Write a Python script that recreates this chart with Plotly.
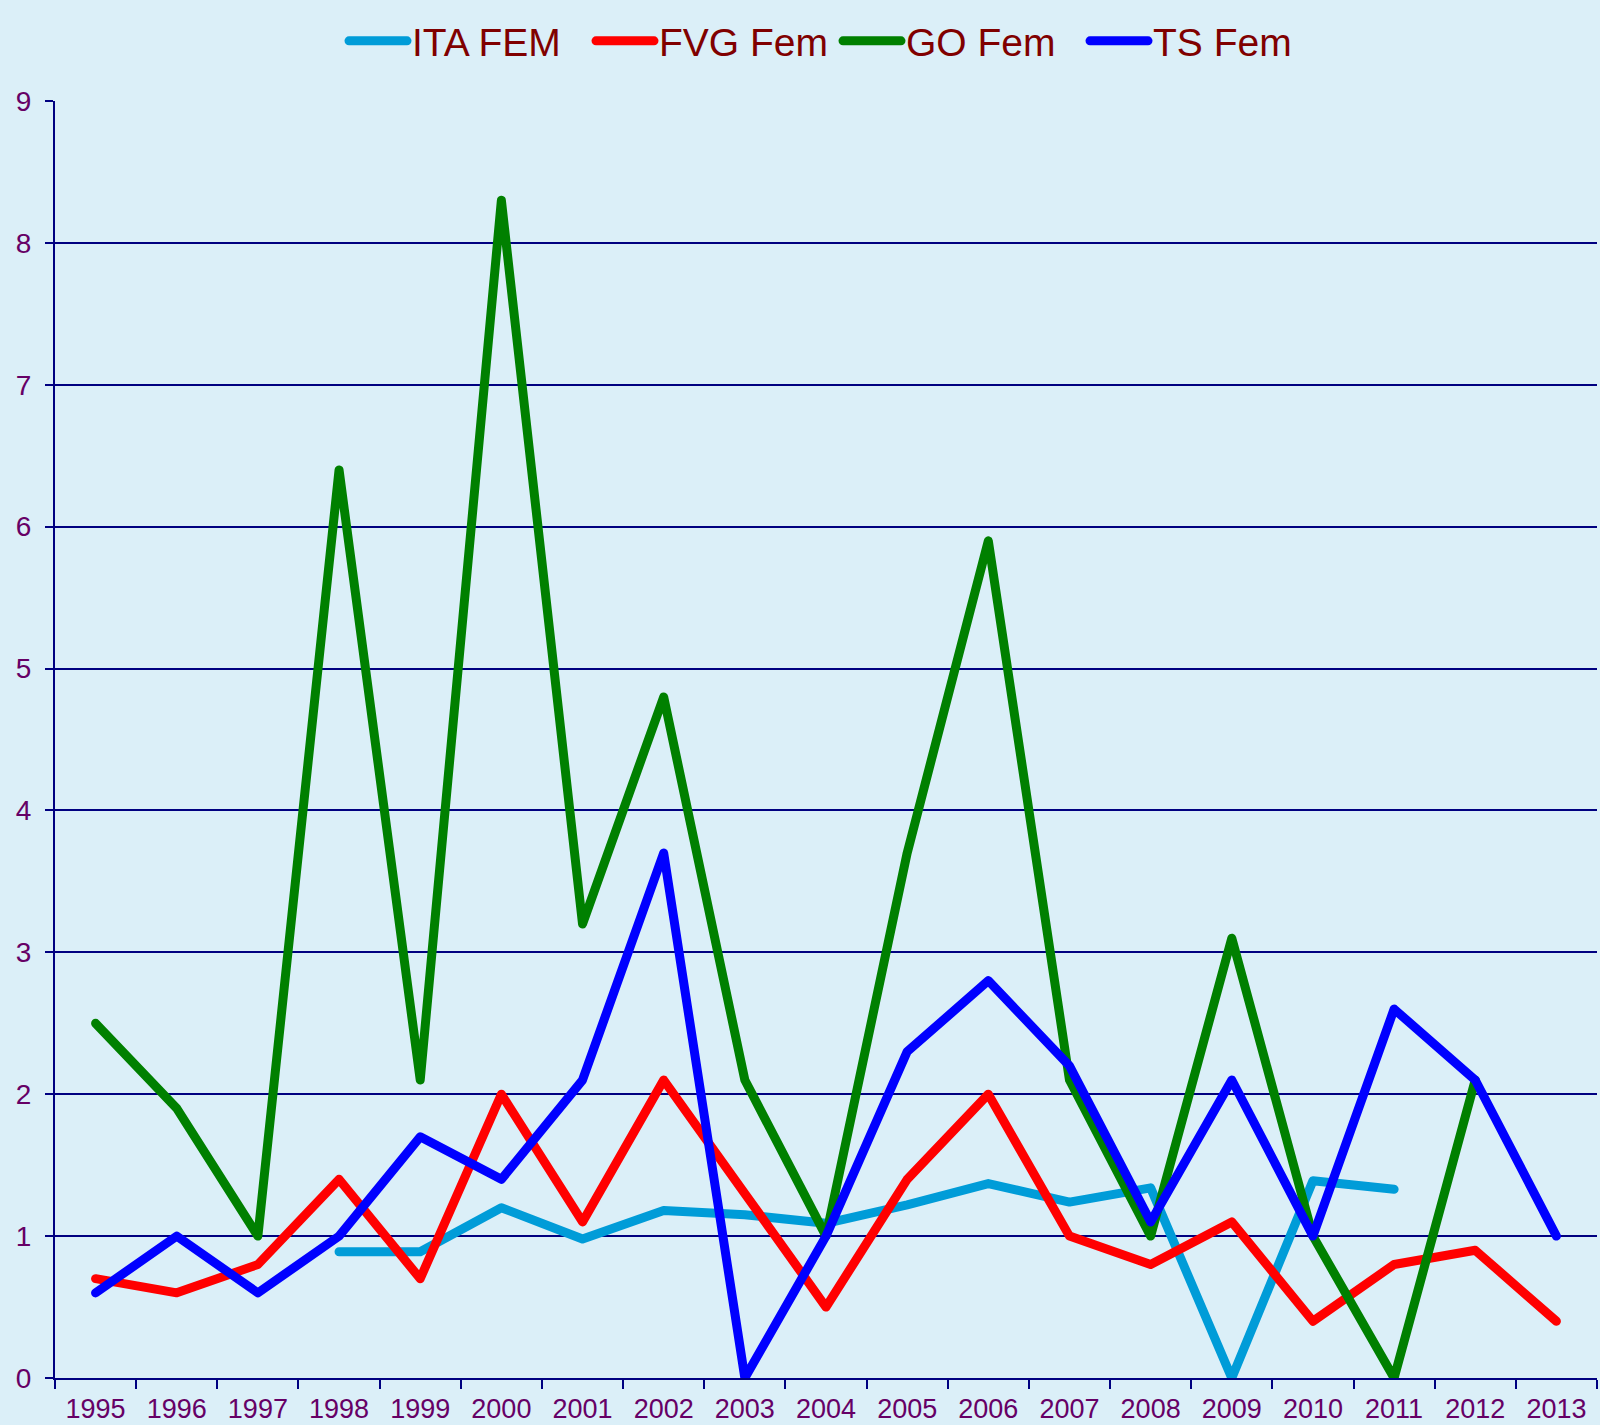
import plotly.graph_objs as go

# Years on the category axis
years = ["1995", "1996", "1997", "1998", "1999", "2000", "2001", "2002", "2003", "2004",
         "2005", "2006", "2007", "2008", "2009", "2010", "2011", "2012", "2013"]

# Series values
ita_fem = [None, None, None, 0.89, 0.89, 1.2, 0.98, 1.18, 1.15, 1.09,
           1.22, 1.37, 1.24, 1.34, 0.0, 1.39, 1.33, None, None]
fvg_fem = [0.7, 0.6, 0.8, 1.4, 0.7, 2.0, 1.1, 2.1, 1.3, 0.5,
           1.4, 2.0, 1.0, 0.8, 1.1, 0.4, 0.8, 0.9, 0.4]
go_fem = [2.5, 1.9, 1.0, 6.4, 2.1, 8.3, 3.2, 4.8, 2.1, 1.0,
          3.7, 5.9, 2.1, 1.0, 3.1, 1.0, 0.0, 2.1, None]
ts_fem = [0.6, 1.0, 0.6, 1.0, 1.7, 1.4, 2.1, 3.7, 0.0, 1.0,
          2.3, 2.8, 2.2, 1.1, 2.1, 1.0, 2.6, 2.1, 1.0]

y_ticks = [0, 1, 2, 3, 4, 5, 6, 7, 8, 9]

series = [
    ("ITA FEM", ita_fem, "#009cd8"),
    ("FVG Fem", fvg_fem, "#ff0000"),
    ("GO Fem", go_fem, "#008000"),
    ("TS Fem", ts_fem, "#0000ff"),
]

bg = "#dbeff8"
navy = "#000080"
purple = "#660066"

fig = go.Figure()

for name, vals, color in series:
    fig.add_trace(go.Scatter(x=years, y=vals, name=name, mode="lines",
                             line=dict(color=color, width=9),
                             connectgaps=False))

fig.update_layout(
    width=1600, height=1425,
    paper_bgcolor=bg, plot_bgcolor=bg,
    margin=dict(l=55, r=3, t=101, b=47, autoexpand=False),
    font=dict(family="Liberation Sans, Arial, sans-serif", color=purple, size=27),
    showlegend=True,
    legend=dict(orientation="h", xref="container", x=344 / 1600, xanchor="left",
                yref="container", y=1 - 41 / 1425, yanchor="middle",
                font=dict(size=39, color="#800000"), itemwidth=58,
                entrywidth=174, entrywidthmode="pixels",
                bgcolor="rgba(0,0,0,0)"),
)

fig.update_xaxes(
    type="category", tickson="boundaries", ticks="outside", ticklen=9,
    tickwidth=2, tickcolor=navy, showgrid=False, showline=True,
    linecolor=navy, linewidth=2, zeroline=False,
    tickfont=dict(size=27, color=purple), ticklabelstandoff=6,
    range=[-0.5, len(years) - 0.5],
)

fig.update_yaxes(
    range=[0, 9], tickvals=y_ticks, ticks="outside", ticklen=8,
    tickwidth=2, tickcolor=navy, showgrid=True, gridcolor=navy, gridwidth=2,
    showline=True, linecolor=navy, linewidth=2, zeroline=False,
    tickfont=dict(size=28, color=purple), ticklabelstandoff=8,
)

# page without body margin, rounded line joins like the original
post = ("document.body.style.margin='0';"
        "var s=document.createElement('style');"
        "s.textContent='.js-line{stroke-linejoin:round;stroke-linecap:round}';"
        "document.head.appendChild(s);")

fig.write_html("out.html", post_script=post, config={"displayModeBar": False})
